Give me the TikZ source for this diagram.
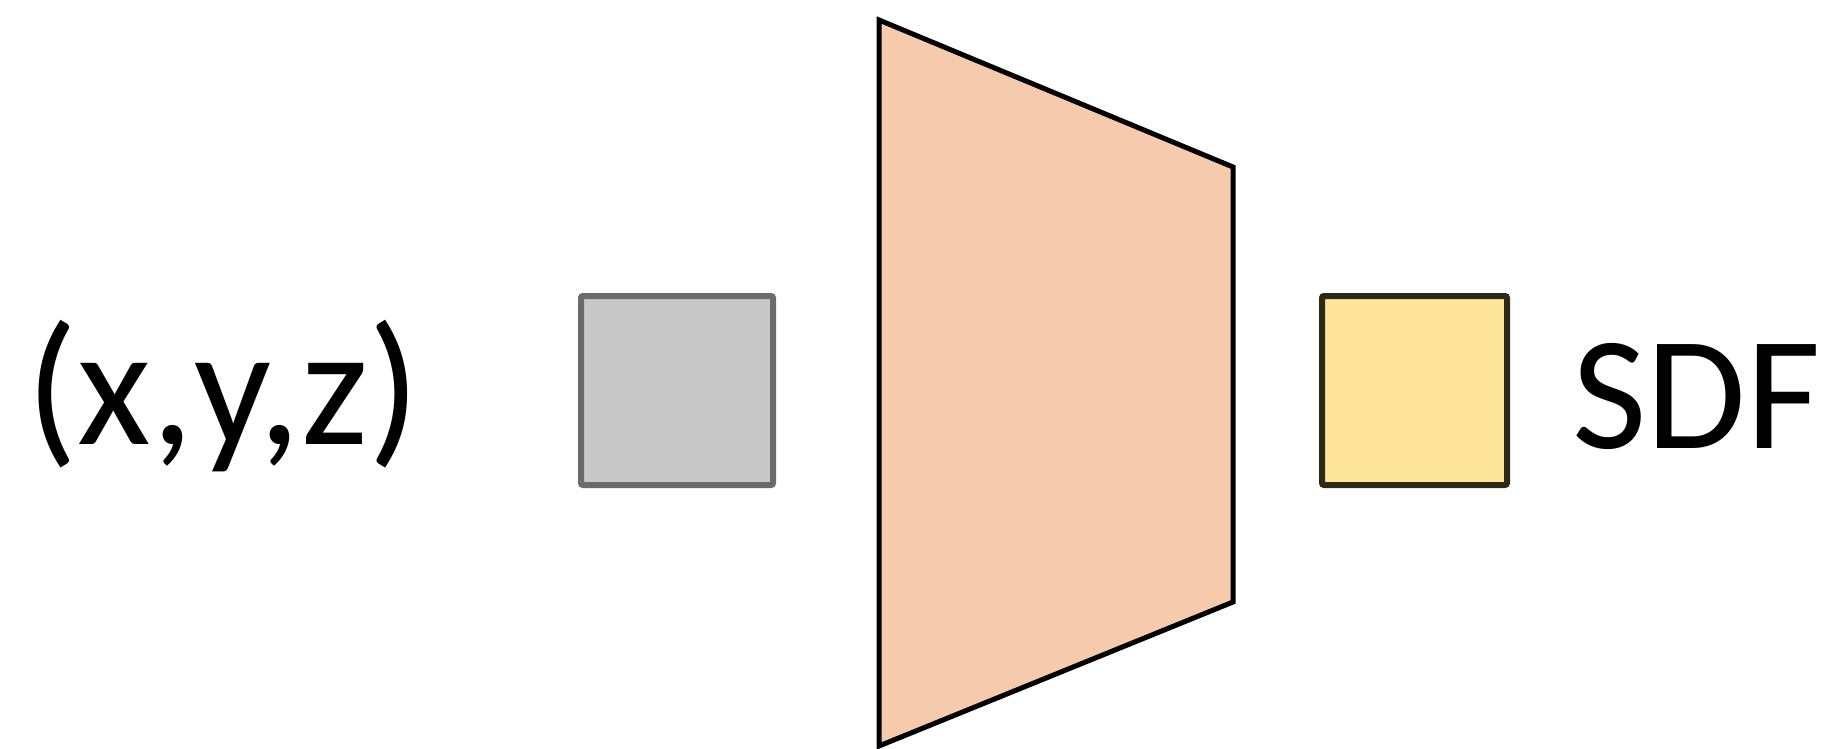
\documentclass[tikz,border=0pt]{standalone}
\usepackage{fontspec}
\setmainfont{Carlito}
\definecolor{boxgray}{HTML}{C8C8C8}
\definecolor{boxgrayline}{HTML}{6B6B6B}
\definecolor{boxyellow}{HTML}{FEE498}
\definecolor{boxyellowline}{HTML}{2E2818}
\definecolor{trapfill}{HTML}{F6CBAD}
\tikzset{
  lbl/.style={anchor=base west, inner sep=0pt, font=\fontsize{81}{90}\selectfont},
  sqbox/.style={draw, line width=3pt, rounded corners=1pt, inner sep=0pt, anchor=north west},
}
\begin{document}
\begin{tikzpicture}[x=0.5pt,y=-0.5pt]
\useasboundingbox (0,0) rectangle (1843,749);
\node[lbl, font=\fontsize{85}{90}\selectfont] (xyz) at (26,444) {(x,y,z)};
\node[sqbox, fill=boxgray, draw=boxgrayline, minimum width=96pt, minimum height=94.5pt] (inbox) at (578,293) {};
\draw[line width=2.5pt, fill=trapfill, line join=miter] (879,20) coordinate (tl) -- (1233,167) coordinate (tr) -- (1233,602) coordinate (br) -- (879,746) coordinate (bl) -- cycle;
\node[sqbox, fill=boxyellow, draw=boxyellowline, minimum width=92.5pt, minimum height=94.5pt] (outbox) at (1319,293) {};
\node[lbl] (sdf) at (1572,448) {SDF};
\end{tikzpicture}
\end{document}
